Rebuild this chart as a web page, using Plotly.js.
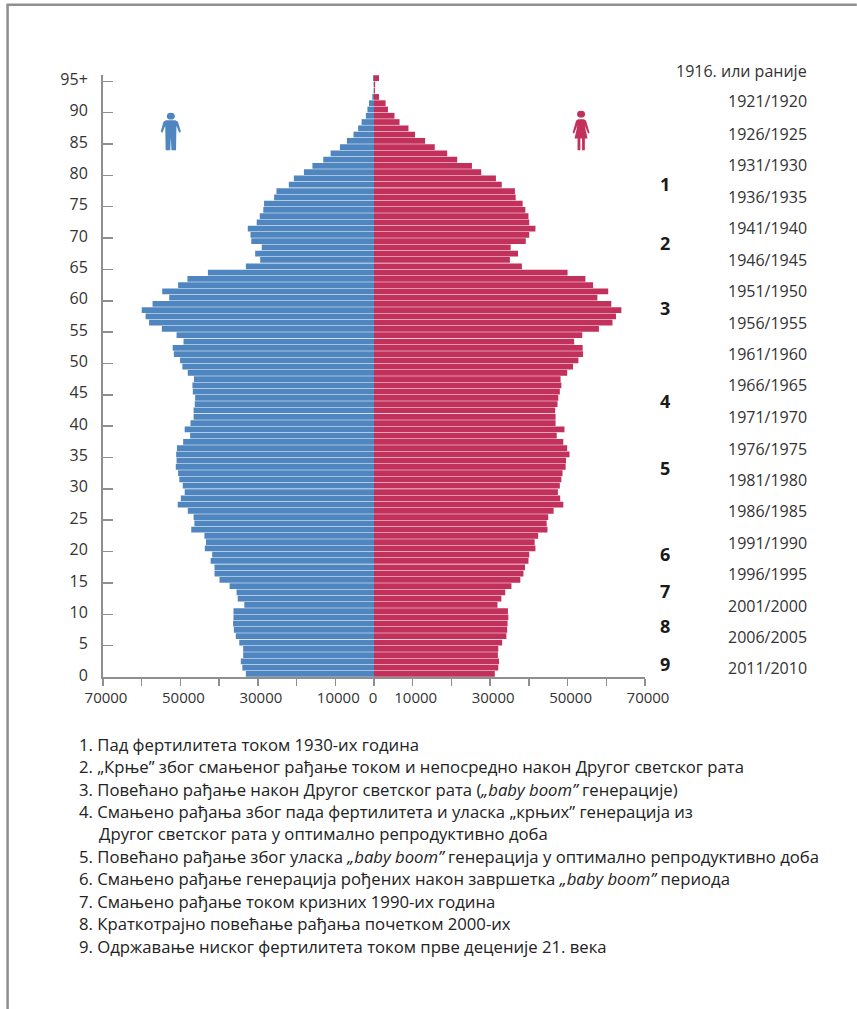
<!DOCTYPE html>
<html>
<head>
<meta charset="utf-8">
<script src="https://cdn.plot.ly/plotly-3.0.1.min.js"></script>
<style>html,body{margin:0;padding:0;background:#fff}</style>
</head>
<body>
<div id="chart" style="width:857px;height:1009px"></div>
<script>
// Age 0, 1, 2 ... 95+ (bottom to top)
const male = [33100,34000,34400,33800,33800,34800,35700,36200,36400,36300,36300,33500,35200,35500,37300,39900,41200,41200,42200,41800,43700,43400,43800,47200,46400,46600,48100,50700,49900,48900,49400,50300,50600,51200,51000,51100,50900,49300,47500,48900,47400,46600,46600,46300,46200,46800,46900,46500,48100,49500,50100,51700,52000,49200,51000,54800,58100,59000,60000,57200,52900,54700,50600,48200,42900,33100,29400,30700,29000,31700,31900,32600,30300,29500,28600,28400,25800,25200,22000,20700,18100,15900,13100,11200,8800,7000,5300,4100,3200,2100,1700,1300,430,100,100,250];
const female = [31200,32100,32300,32000,32100,33100,34200,34400,34500,34700,34600,31900,32900,33900,35500,37800,38600,39000,39900,40100,41700,41500,42400,44800,44600,45000,46400,48900,48100,47500,48000,48400,48700,49500,49600,50500,49900,48900,47200,49200,46900,46900,46800,47400,47600,48000,48400,48200,49900,51400,52800,54000,53900,51700,53800,58100,61600,62500,63900,61300,57700,60500,56600,54600,50000,38200,35100,37200,35300,39200,40100,41700,40100,39900,39100,38400,36600,36400,33000,31500,27700,25300,21500,18900,15700,13200,10600,8900,6600,5300,3600,3000,1300,250,300,1300];
const ageTicks = [0,5,10,15,20,25,30,35,40,45,50,55,60,65,70,75,80,85,90,95];
const ageLabels = ['0','5','10','15','20','25','30','35','40','45','50','55','60','65','70','75','80','85','90','95+'];
const popTicks = [-70000,-60000,-50000,-40000,-30000,-20000,-10000,0,10000,20000,30000,40000,50000,60000,70000];
const popLabels = ['70000','','50000','','30000','','10000','0\u00a0\u00a0','10000','','30000','','50000','','70000'];
const cohorts = ['2011/2010','2006/2005','2001/2000','1996/1995','1991/1990','1986/1985','1981/1980','1976/1975','1971/1970','1966/1965','1961/1960','1956/1955','1951/1950','1946/1945','1941/1940','1936/1935','1931/1930','1926/1925','1921/1920','1916. или раније'];
const cohortAges = [1.4,6.4,11.4,16.4,21.4,26.4,31.4,36.4,41.5,46.5,51.5,56.5,61.5,66.5,71.6,76.6,81.6,86.6,91.8,96.7];
const phaseLabels = ['1','2','3','4','5','6','7','8','9'];
const phaseAges = [78.6,69.2,58.8,44,33.4,19.6,13.7,8.2,2.1];
const notes = [
 '1. Пад фертилитета током 1930-их година',
 '2. „Крње” због смањеног рађање током и непосредно након Другог светског рата',
 '3. Повећано рађање након Другог светског рата (<i>„baby boom”</i> генерације)',
 '4. Смањено рађања због пада фертилитета и уласка „крњих” генерација из',
 'Другог светског рата у оптимално репродуктивно доба',
 '5. Повећано рађање због уласка <i>„baby boom”</i> генерација у оптимално репродуктивно доба',
 '6. Смањено рађање генерација рођених након завршетка <i>„baby boom”</i> периода',
 '7. Смањено рађање током кризних 1990-их година',
 '8. Краткотрајно повећање рађања почетком 2000-их',
 '9. Одржавање ниског фертилитета током прве деценије 21. века'
];

const L = 102.5, T = 74.8, W = 542.5, H = 601.9, FW = 857, FH = 1009;
const px = x => (x - L) / W;
const py = y => 1 - (y - T) / H;
const FONT = '"Open Sans", "Noto Sans", sans-serif';
const BLUE = '#4f86c0', RED = '#c2315b', GREY = '#8f8f8f', TXT = '#333333';
const ages = male.map((_, i) => i + 0.5);

const traces = [
  {type:'bar', orientation:'h', name:'Мушкарци', y:ages, x:male.map(v => -v), marker:{color:BLUE, line:{width:0}}},
  {type:'bar', orientation:'h', name:'Жене', y:ages, x:female, marker:{color:RED, line:{width:0}}}
];

const annotations = [];
cohorts.forEach((c, i) => annotations.push({
  xref:'paper', yref:'paper', x:px(809), y:cohortAges[i] / 96, text:c, showarrow:false,
  xanchor:'right', yanchor:'middle', font:{family:FONT, size:16, color:TXT}
}));
phaseLabels.forEach((c, i) => annotations.push({
  xref:'paper', yref:'paper', x:px(665), y:phaseAges[i] / 96, text:c, showarrow:false,
  xanchor:'center', yanchor:'middle', font:{family:FONT, size:18, color:'#1a1a1a', weight:700}
}));
const noteY = [744,766,789,811,833,856,878,901,923,946];
notes.forEach((n, i) => annotations.push({
  xref:'paper', yref:'paper', x:px(i === 4 ? 96 : 76), y:py(noteY[i]), text:n, showarrow:false,
  xanchor:'left', yanchor:'middle', align:'left', font:{family:FONT, size:16.7, color:'#222222'}
}));

function poly(pts, color) {
  return {type:'path', xref:'paper', yref:'paper', fillcolor:color, line:{width:0},
    path:'M' + pts.map(p => px(p[0]) + ',' + py(p[1])).join(' L') + ' Z'};
}
function head(cx, cy, r, color) {
  return {type:'circle', xref:'paper', yref:'paper', fillcolor:color, line:{width:0},
    x0:px(cx-r-0.6), x1:px(cx+r+0.6), y0:py(cy+r), y1:py(cy-r)};
}
const manPts = [[165.5,120],[175,120],[177.5,121.5],[180.5,131.5],[178.8,132.5],[176,125.5],[175.6,150],[171,150],[170.4,137],[169.8,150],[165.2,150],[164.8,125.5],[162,132.5],[160.3,131.5],[163,121.5]];
const womanPts = [[578,119],[584,119],[586,120.5],[589.5,132.5],[588,133.3],[584.6,125],[587.5,138.3],[584.8,138.3],[584.8,150],[582,150],[582,138.3],[580.3,138.3],[580.3,150],[577.5,150],[577.5,138.3],[574.5,138.3],[577.4,125],[574,133.3],[572.5,132.5],[576,120.5]];

const shapes = [
  {type:'line', xref:'paper', yref:'paper', x0:px(7), x1:px(7), y0:py(4), y1:py(FH), line:{color:GREY, width:2.5}},
  {type:'line', xref:'paper', yref:'paper', x0:px(6), x1:px(FW), y0:py(4.5), y1:py(4.5), line:{color:GREY, width:2.5}},
  poly(manPts, BLUE), head(170.4, 116, 3.4, BLUE),
  poly(womanPts, RED), head(581, 114, 3.4, RED)
];

const layout = {
  width:FW, height:FH,
  margin:{l:L, r:FW-L-W, t:T, b:FH-T-H, pad:0, autoexpand:false},
  paper_bgcolor:'#ffffff', plot_bgcolor:'#ffffff',
  barmode:'relative', bargap:0.08, showlegend:false,
  font:{family:FONT, color:TXT},
  xaxis:{range:[-70000,70000], tickmode:'array', tickvals:popTicks, ticktext:popLabels,
    ticks:'outside', ticklen:7, tickwidth:1.5, tickcolor:GREY, showline:true, linecolor:GREY, linewidth:2,
    showgrid:false, zeroline:false, tickangle:0, ticklabelshift:3, ticklabelstandoff:-1,
    tickfont:{family:FONT, size:15, color:TXT}},
  yaxis:{range:[0,96], tickmode:'array', tickvals:ageTicks, ticktext:ageLabels,
    ticks:'inside', ticklen:10, tickwidth:1.5, tickcolor:GREY, showline:true, linecolor:GREY, linewidth:2,
    showgrid:false, zeroline:false, ticklabelshift:-2, ticklabelstandoff:10,
    tickfont:{family:FONT, size:16, color:TXT}},
  annotations, shapes
};
Plotly.newPlot('chart', traces, layout, {displayModeBar:false, staticPlot:true});
</script>
</body>
</html>
